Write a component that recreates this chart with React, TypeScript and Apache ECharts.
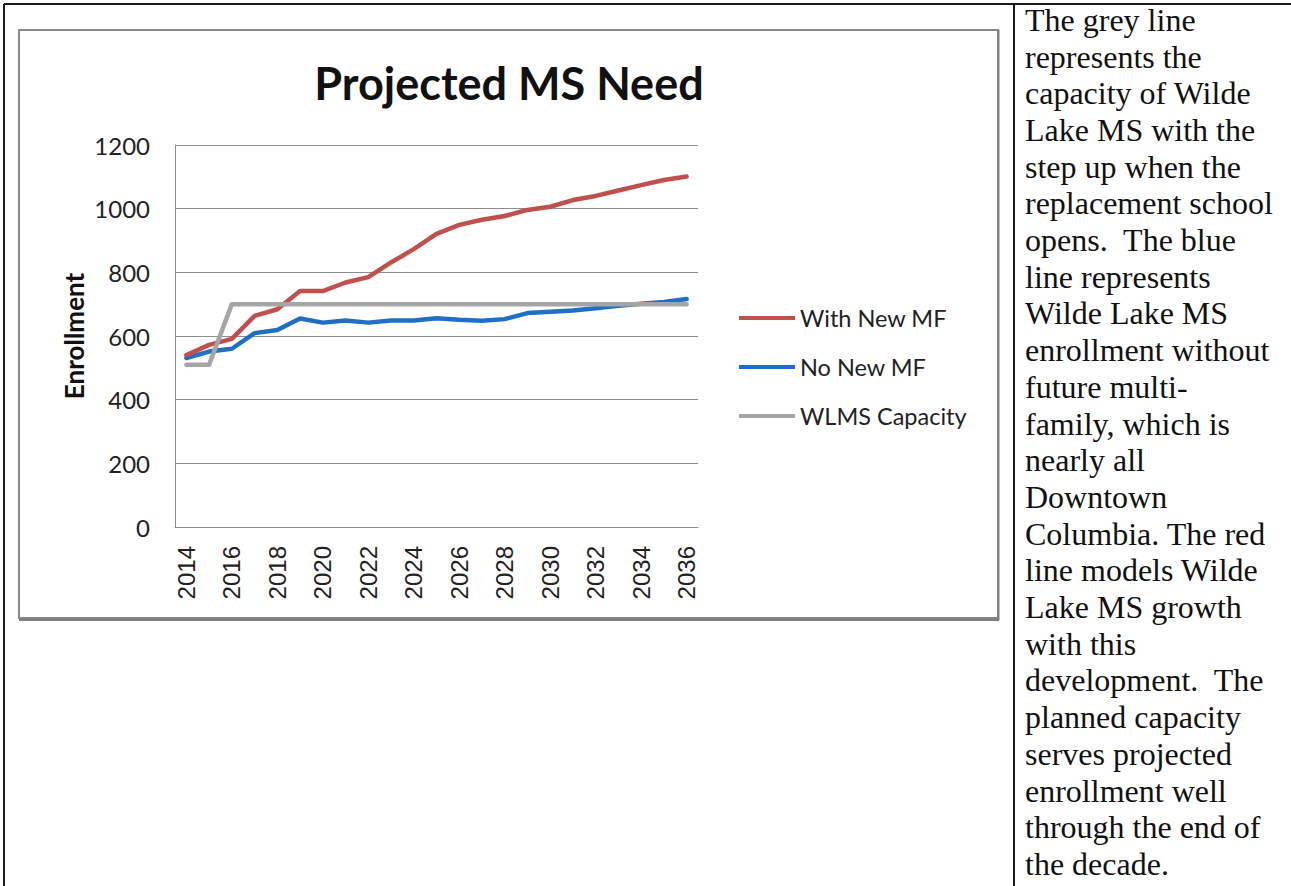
import React, { useEffect, useRef } from "react";
import * as echarts from "echarts";

const years = [
  "2014", "2015", "2016", "2017", "2018", "2019", "2020", "2021", "2022", "2023", "2024", "2025",
  "2026", "2027", "2028", "2029", "2030", "2031", "2032", "2033", "2034", "2035", "2036",
];
const withNewMF = [540, 572, 591, 663, 684, 741, 741, 768, 785, 831, 873, 921, 949, 965, 977, 996, 1006, 1027, 1040, 1057, 1074, 1090, 1101];
const noNewMF = [531, 551, 560, 609, 619, 655, 642, 649, 642, 649, 649, 656, 651, 648, 653, 672, 676, 680, 687, 695, 701, 707, 716];
const wlmsCapacity = [510, 510, 700, 700, 700, 700, 700, 700, 700, 700, 700, 700, 700, 700, 700, 700, 700, 700, 700, 700, 700, 700, 700];
const seriesNames = ["With New MF", "No New MF", "WLMS Capacity"];
const seriesColors = ["#C0504D", "#1F6FC4", "#A5A5A5"];
const chartTitle = "Projected MS Need";
const yAxisName = "Enrollment";
const yMin = 0;
const yMax = 1200;
const yStep = 200;
const noteLines = [
  "The grey line",
  "represents the",
  "capacity of Wilde",
  "Lake MS with the",
  "step up when the",
  "replacement school",
  "opens.  The blue",
  "line represents",
  "Wilde Lake MS",
  "enrollment without",
  "future multi-",
  "family, which is",
  "nearly all",
  "Downtown",
  "Columbia. The red",
  "line models Wilde",
  "Lake MS growth",
  "with this",
  "development.  The",
  "planned capacity",
  "serves projected",
  "enrollment well",
  "through the end of",
  "the decade.",
];

const SANS = "Lato, 'Open Sans', sans-serif";
const SERIF = "'Liberation Serif', 'DejaVu Serif', serif";

export default function App() {
  const ref = useRef<HTMLDivElement>(null);

  useEffect(() => {
    if (!ref.current) return;
    const chart = echarts.init(ref.current, undefined, { renderer: "svg" });
    const seriesData = [withNewMF, noNewMF, wlmsCapacity];

    const noteTexts = noteLines.map((line, i) => ({
      type: "text",
      x: 1025,
      y: 19.8 + 36.7 * i,
      style: {
        text: line,
        fontFamily: SERIF,
        fontSize: 32,
        fill: "#111111",
        textAlign: "left",
        verticalAlign: "middle",
      },
    }));

    chart.setOption({
      animation: false,
      backgroundColor: "#ffffff",
      title: {
        text: chartTitle,
        left: 509,
        top: 60,
        textAlign: "center",
        padding: 0,
        textStyle: {
          fontFamily: SANS,
          fontWeight: "bold",
          fontSize: 45,
          color: "#111111",
        },
      },
      grid: { left: 175, top: 145, width: 523, height: 382, containLabel: false },
      legend: {
        orient: "vertical",
        left: 739,
        top: 306,
        padding: 0,
        itemWidth: 56,
        itemHeight: 4,
        itemGap: 25,
        icon: "rect",
        textStyle: { fontFamily: SANS, fontSize: 23.5, color: "#222222", lineHeight: 24 },
        data: seriesNames,
      },
      xAxis: {
        type: "category",
        data: years,
        boundaryGap: true,
        axisLine: { show: true, lineStyle: { color: "#8c8c8c", width: 1 } },
        axisTick: { show: false },
        axisLabel: {
          interval: 1,
          rotate: 90,
          margin: 19,
          fontFamily: "'Liberation Sans', Arial, sans-serif",
          fontSize: 24,
          color: "#222222",
        },
      },
      yAxis: {
        type: "value",
        min: yMin,
        max: yMax,
        interval: yStep,
        name: yAxisName,
        nameLocation: "middle",
        nameGap: 88,
        nameTextStyle: { fontFamily: SANS, fontWeight: "bold", fontSize: 26, color: "#111111" },
        axisLine: { show: true, lineStyle: { color: "#8c8c8c", width: 1 } },
        axisTick: { show: false },
        splitLine: { show: true, lineStyle: { color: "#8c8c8c", width: 1 } },
        axisLabel: {
          margin: 25,
          fontFamily: SANS,
          fontSize: 24,
          color: "#222222",
          formatter: (v: number) => String(v),
        },
      },
      series: seriesNames.map((name, i) => ({
        name,
        type: "line",
        data: seriesData[i],
        symbol: "none",
        color: seriesColors[i],
        lineStyle: { color: seriesColors[i], width: 4.5, cap: "round", join: "round" },
        z: i === 2 ? 4 : 3 - i,
      })),
      graphic: [
        { type: "line", shape: { x1: 4, y1: 4, x2: 1291, y2: 4 }, style: { stroke: "#1a1a1a", lineWidth: 2 }, z: 10 },
        { type: "line", shape: { x1: 4, y1: 4, x2: 4, y2: 886 }, style: { stroke: "#1a1a1a", lineWidth: 2 }, z: 10 },
        { type: "line", shape: { x1: 1014, y1: 4, x2: 1014, y2: 886 }, style: { stroke: "#1a1a1a", lineWidth: 2 }, z: 10 },
        {
          type: "rect",
          shape: { x: 19, y: 30, width: 979, height: 588 },
          style: { fill: "none", stroke: "#8a8a8a", lineWidth: 2 },
          z: -10,
        },
        { type: "line", shape: { x1: 19, y1: 619.5, x2: 999, y2: 619.5 }, style: { stroke: "#7f7f7f", lineWidth: 3 }, z: -10 },
        { type: "line", shape: { x1: 998.5, y1: 30, x2: 998.5, y2: 620 }, style: { stroke: "#7f7f7f", lineWidth: 2 }, z: -10 },
        { type: "group", children: noteTexts },
      ],
    });

    return () => {
      chart.dispose();
    };
  }, []);

  return (
    <div
      ref={ref}
      style={{ position: "absolute", left: 0, top: 0, width: 1291, height: 886, background: "#ffffff" }}
    />
  );
}
